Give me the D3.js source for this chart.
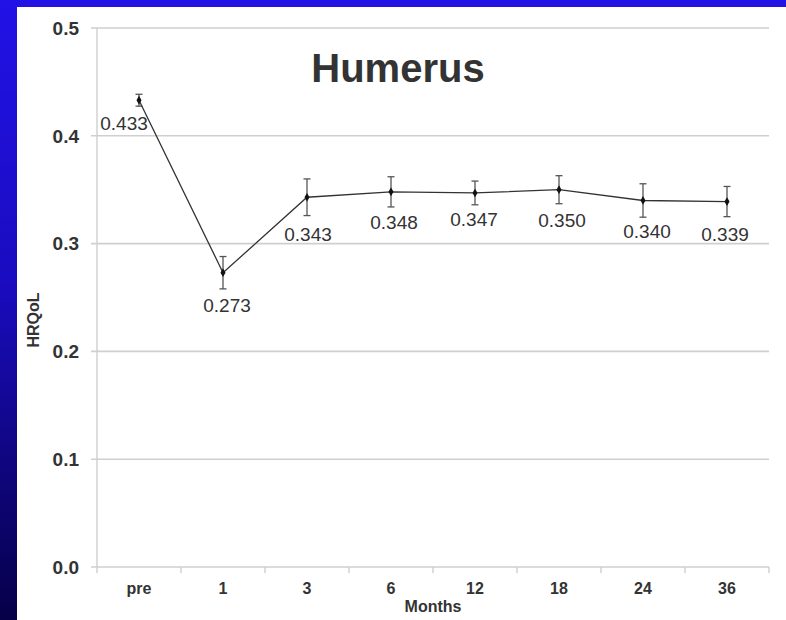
<!DOCTYPE html>
<html><head><meta charset="utf-8">
<script src="https://cdn.jsdelivr.net/npm/d3@7"></script>
<style>html,body{margin:0;padding:0;background:#fff}svg{display:block}</style>
</head><body>
<script>
const categories = ["pre","1","3","6","12","18","24","36"];
const values = [0.433,0.273,0.343,0.348,0.347,0.350,0.340,0.339];
const errors = [0.0055,0.015,0.017,0.014,0.011,0.013,0.0155,0.014];
const yTicks = [0.0,0.1,0.2,0.3,0.4,0.5];
const labelDx = [-15,4,1,3,-1,3,4,-2];
const labelDy = [23,32,37,30,26,30,31,33];

const W=786,H=620;
const svg=d3.select("body").append("svg").attr("width",W).attr("height",H);
const defs=svg.append("defs");
const g1=defs.append("linearGradient").attr("id","bg").attr("x1",0).attr("y1",0).attr("x2",0).attr("y2",1);
g1.append("stop").attr("offset","0").attr("stop-color","#2212e6");
g1.append("stop").attr("offset","0.45").attr("stop-color","#1a0cc0");
g1.append("stop").attr("offset","1").attr("stop-color","#060048");
svg.append("rect").attr("width",W).attr("height",H).attr("fill","url(#bg)");
svg.append("rect").attr("x",17).attr("y",7).attr("width",W-17).attr("height",H-7).attr("fill","#fff");

const x=d3.scaleBand().domain(categories).range([97,769]);
const y=d3.scaleLinear().domain([0,0.5]).range([567,28]);
const font="'Liberation Sans', Arial, Helvetica, sans-serif";

// gridlines
svg.append("g").selectAll("line").data(yTicks).join("line")
  .attr("x1",91).attr("x2",769).attr("y1",d=>y(d)).attr("y2",d=>y(d))
  .attr("stroke","#cfcfcf").attr("stroke-width",1.6);
// y axis line
svg.append("line").attr("x1",97).attr("x2",97).attr("y1",28).attr("y2",567).attr("stroke","#cfcfcf").attr("stroke-width",1.4);
// x axis ticks
const bounds=categories.map(c=>x(c)).concat([x.range()[1]]);
svg.append("g").selectAll("line").data(bounds).join("line")
  .attr("x1",d=>d).attr("x2",d=>d).attr("y1",567).attr("y2",573)
  .attr("stroke","#cfcfcf").attr("stroke-width",1.4);

// y tick labels
svg.append("g").selectAll("text").data(yTicks).join("text")
  .attr("x",79).attr("y",d=>y(d)).attr("dy","0.36em").attr("text-anchor","end")
  .attr("font-family",font).attr("font-weight","bold").attr("font-size",19).attr("fill","#333")
  .text(d=>d.toFixed(1));
// x tick labels
svg.append("g").selectAll("text").data(categories).join("text")
  .attr("x",d=>x(d)+x.bandwidth()/2).attr("y",594).attr("text-anchor","middle")
  .attr("font-family",font).attr("font-weight","bold").attr("font-size",16).attr("fill","#333")
  .text(d=>d);
svg.append("text").attr("x",433).attr("y",612).attr("text-anchor","middle")
  .attr("font-family",font).attr("font-weight","bold").attr("font-size",16).attr("fill","#333").text("Months");
svg.append("text").attr("transform","translate(39,320) rotate(-90)").attr("text-anchor","middle")
  .attr("font-family",font).attr("font-weight","bold").attr("font-size",16).attr("fill","#333").text("HRQoL");

// title
svg.append("text").attr("x",398).attr("y",82).attr("text-anchor","middle")
  .attr("font-family",font).attr("font-weight","bold").attr("font-size",40).attr("fill","#333").text("Humerus");

const cx=i=>x(categories[i])+x.bandwidth()/2;
// error bars
const eb=svg.append("g").attr("stroke","#555").attr("stroke-width",1.3);
values.forEach((v,i)=>{
  eb.append("line").attr("x1",cx(i)).attr("x2",cx(i)).attr("y1",y(v-errors[i])).attr("y2",y(v+errors[i]));
  [v-errors[i],v+errors[i]].forEach(e=>eb.append("line").attr("x1",cx(i)-3.5).attr("x2",cx(i)+3.5).attr("y1",y(e)).attr("y2",y(e)));
});
// line
svg.append("path").datum(values).attr("fill","none").attr("stroke","#333").attr("stroke-width",1.3)
  .attr("d",d3.line().x((d,i)=>cx(i)).y(d=>y(d)));
svg.append("g").selectAll("path").data(values).join("path")
  .attr("transform",(d,i)=>`translate(${cx(i)},${y(d)})`)
  .attr("d",d3.symbol().type(d3.symbolDiamond).size(22)).attr("fill","#111");
// value labels
svg.append("g").selectAll("text").data(values).join("text")
  .attr("x",(d,i)=>cx(i)+labelDx[i]).attr("y",(d,i)=>y(d)+labelDy[i]).attr("dy","0.36em").attr("text-anchor","middle")
  .attr("font-family",font).attr("font-size",19).attr("fill","#333")
  .text(d=>d.toFixed(3));
</script>
</body></html>
